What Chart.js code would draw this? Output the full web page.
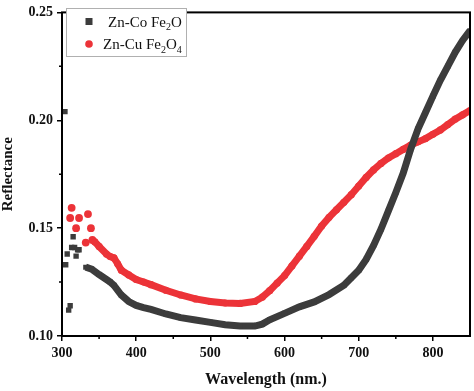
<!DOCTYPE html>
<html>
<head>
<meta charset="utf-8">
<script src="https://cdn.jsdelivr.net/npm/chart.js@4.4.1/dist/chart.umd.min.js"></script>
<style>
  html, body { margin: 0; padding: 0; background: #fff; }
  #wrap { width: 474px; height: 391px; }
</style>
</head>
<body>
<div id="wrap"><canvas id="reflectChart" width="474" height="391"></canvas></div>
<script>
/* ==========================================
   DATA
========================================== */

// Zn-Co Fe2O : scattered points near the start
const coScatterX = [304, 305, 307, 309, 311, 313, 315, 317, 319, 321, 323];
const coScatterY = [0.204, 0.133, 0.138, 0.112, 0.114, 0.141, 0.146, 0.141, 0.137, 0.140, 0.140];

// Zn-Co Fe2O : continuous band
const coBandX = [332, 340, 350, 360, 365, 370, 380, 390, 400, 410, 420, 440, 460, 480, 500, 520, 540, 560,
                 570, 580, 600, 620, 640, 660, 680, 690, 700, 710, 720, 730, 740, 750, 760, 770, 780,
                 790, 800, 810, 820, 830, 840, 850];
const coBandY = [0.1319, 0.1310, 0.1285, 0.1262, 0.1250, 0.1235, 0.1190, 0.1160, 0.1142, 0.1132, 0.1123,
                 0.1102, 0.1085, 0.1074, 0.1063, 0.1052, 0.1046, 0.1046, 0.1055, 0.1075, 0.1105, 0.1135,
                 0.1158, 0.1192, 0.1235, 0.1270, 0.1305, 0.1355, 0.1420, 0.1495, 0.1580, 0.1665, 0.1755,
                 0.1866, 0.1960, 0.2036, 0.2112, 0.2185, 0.2250, 0.2315, 0.2370, 0.2415];

// Zn-Cu Fe2O4 : scattered points near the start
const cuScatterX = [311, 313, 319, 323, 332, 335, 339, 341];
const cuScatterY = [0.1547, 0.1594, 0.1500, 0.1547, 0.1433, 0.1565, 0.1500, 0.1445];

// Zn-Cu Fe2O4 : continuous band
const cuBandX = [344, 350, 360, 365, 370, 375, 380, 390, 400, 410, 420, 440, 460, 480, 500, 520, 540, 560,
                 570, 580, 590, 600, 610, 620, 630, 640, 650, 660, 670, 680, 690, 700, 710, 720, 730,
                 740, 750, 760, 770, 780, 790, 800, 810, 820, 830, 840, 850];
const cuBandY = [0.1437, 0.1415, 0.1380, 0.1368, 0.1362, 0.1335, 0.1305, 0.1283, 0.1262, 0.1250, 0.1238,
                 0.1212, 0.1190, 0.1172, 0.1160, 0.1153, 0.1151, 0.1160, 0.1180, 0.1210, 0.1245, 0.1280,
                 0.1325, 0.1370, 0.1415, 0.1462, 0.1510, 0.1550, 0.1585, 0.1620, 0.1655, 0.1695, 0.1735,
                 0.1770, 0.1800, 0.1825, 0.1845, 0.1865, 0.1885, 0.1900, 0.1915, 0.1935, 0.1955, 0.1980,
                 0.2005, 0.2025, 0.2045];

const xMajorTicks = [300, 400, 500, 600, 700, 800];
const xMinorTicks = [350, 450, 550, 650, 750];
const yMajorTicks = [0.10, 0.15, 0.20, 0.25];
const yMinorTicks = [0.125, 0.175, 0.225];

const coColor = "#3c3c3c";
const cuColor = "#ec3338";

const toPoints = (xs, ys) => xs.map((x, i) => ({ x: x, y: ys[i] }));

/* ==========================================
   FRAME, MINOR TICKS, LEGEND
========================================== */

const framePlugin = {
    id: "framePlugin",
    afterDraw(chart) {
        const ctx = chart.ctx;
        const a = chart.chartArea;
        const xs = chart.scales.x;
        const ys = chart.scales.y;

        ctx.save();
        ctx.strokeStyle = "#000";

        // minor ticks
        ctx.lineWidth = 1.5;
        ctx.beginPath();
        xMinorTicks.forEach(v => {
            const px = xs.getPixelForValue(v);
            ctx.moveTo(px, a.bottom);
            ctx.lineTo(px, a.bottom + 3);
        });
        yMinorTicks.forEach(v => {
            const py = ys.getPixelForValue(v);
            ctx.moveTo(a.left, py);
            ctx.lineTo(a.left - 3, py);
        });
        ctx.stroke();

        // box
        ctx.lineWidth = 2;
        ctx.strokeRect(a.left, a.top, a.right - a.left, a.bottom - a.top);

        // legend
        ctx.fillStyle = "#fff";
        ctx.fillRect(66.5, 8.5, 120, 48);
        ctx.strokeStyle = "#b0b0b0";
        ctx.lineWidth = 1;
        ctx.strokeRect(66.5, 8.5, 120, 48);

        ctx.fillStyle = coColor;
        ctx.fillRect(85.5, 18, 7, 7);
        ctx.fillStyle = cuColor;
        ctx.beginPath();
        ctx.arc(89, 44, 3.8, 0, Math.PI * 2);
        ctx.fill();

        ctx.fillStyle = "#111";
        ctx.textBaseline = "alphabetic";
        const big = "15px 'Liberation Serif', 'Times New Roman', serif";
        const small = "10px 'Liberation Serif', 'Times New Roman', serif";
        const drawParts = (parts, x, y) => {
            parts.forEach(p => {
                ctx.font = p[1] ? small : big;
                ctx.fillText(p[0], x, y + (p[1] ? 3.5 : 0));
                x += ctx.measureText(p[0]).width;
            });
        };
        drawParts([["Zn-Co Fe", 0], ["2", 1], ["O", 0]], 108, 26.5);
        drawParts([["Zn-Cu Fe", 0], ["2", 1], ["O", 0], ["4", 1]], 103, 49);

        ctx.restore();
    }
};

/* ==========================================
   CHART
========================================== */

const tickFont = { family: "'Liberation Serif', 'Times New Roman', serif", weight: "bold" };

new Chart(document.getElementById("reflectChart"), {

    type: "scatter",

    data: {
        datasets: [
            {
                label: "Zn-Co Fe2O",
                data: toPoints(coBandX, coBandY),
                showLine: true,
                borderColor: coColor,
                borderWidth: 7,
                pointStyle: "rect",
                pointRadius: 3.6,
                backgroundColor: coColor,
                pointBorderWidth: 0
            },
            {
                label: "Zn-Co Fe2O start",
                data: toPoints(coScatterX, coScatterY),
                showLine: false,
                pointStyle: "rect",
                pointRadius: 3.8,
                backgroundColor: coColor,
                borderColor: coColor,
                pointBorderWidth: 0
            },
            {
                label: "Zn-Cu Fe2O4",
                data: toPoints(cuBandX, cuBandY),
                showLine: true,
                borderColor: cuColor,
                borderWidth: 7,
                pointStyle: "circle",
                pointRadius: 3.6,
                backgroundColor: cuColor,
                pointBorderWidth: 0
            },
            {
                label: "Zn-Cu Fe2O4 start",
                data: toPoints(cuScatterX, cuScatterY),
                showLine: false,
                pointStyle: "circle",
                pointRadius: 3.9,
                backgroundColor: cuColor,
                borderColor: cuColor,
                pointBorderWidth: 0
            }
        ]
    },

    options: {
        responsive: false,
        animation: false,
        layout: { padding: { top: 7, right: 4, left: 0, bottom: 0 } },
        plugins: {
            legend: { display: false },
            tooltip: { enabled: false }
        },
        scales: {
            x: {
                type: "linear",
                min: 300,
                max: 850,
                afterBuildTicks: s => { s.ticks = xMajorTicks.map(v => ({ value: v })); },
                afterFit: s => { s.height = 55; },
                grid: { display: true, drawOnChartArea: false, drawTicks: true, tickLength: 5, color: "#000", lineWidth: 1.5 },
                border: { display: false },
                ticks: { color: "#111", padding: 4, maxRotation: 0, font: Object.assign({ size: 14 }, tickFont) },
                title: {
                    display: true,
                    text: "Wavelength (nm.)",
                    color: "#111",
                    padding: { top: 0, bottom: 2 },
                    font: Object.assign({ size: 16, lineHeight: 1.2 }, tickFont)
                }
            },
            y: {
                min: 0.10,
                max: 0.25,
                afterBuildTicks: s => { s.ticks = yMajorTicks.map(v => ({ value: v })); },
                afterFit: s => { s.width = 62; },
                grid: { display: true, drawOnChartArea: false, drawTicks: true, tickLength: 5, color: "#000", lineWidth: 1.5 },
                border: { display: false },
                ticks: {
                    color: "#111",
                    padding: 4,
                    font: Object.assign({ size: 14 }, tickFont),
                    callback: v => v.toFixed(2)
                },
                title: {
                    display: true,
                    text: "Reflectance",
                    color: "#111",
                    padding: { top: 1, bottom: 0 },
                    font: Object.assign({ size: 15, lineHeight: 1 }, tickFont)
                }
            }
        }
    },

    plugins: [framePlugin]

});
</script>
</body>
</html>
